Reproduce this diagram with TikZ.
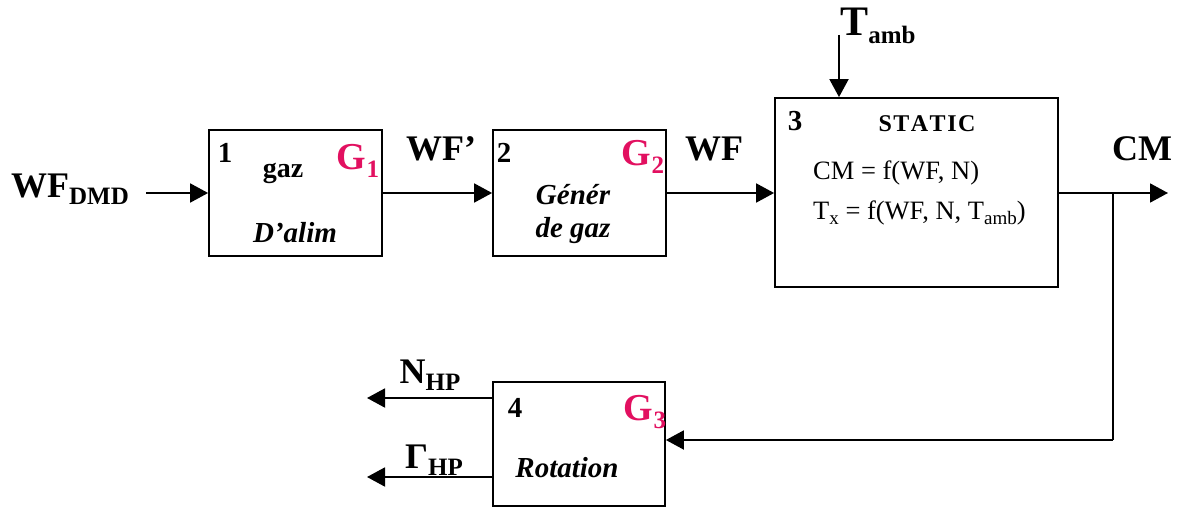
\documentclass[tikz,border=0pt]{standalone}
\usepackage{fontspec}
\setmainfont{Liberation Serif}
\usetikzlibrary{arrows.meta}
\definecolor{gmag}{RGB}{226,16,96}
\newcommand{\fs}[1]{\fontsize{#1}{#1}\selectfont}
\newcommand{\sub}[2]{\raisebox{-0.45ex}{\fs{#1}#2}}
\tikzset{
  blk/.style={draw, line width=1.8pt, rectangle, inner sep=0pt},
  arr/.style={line width=1.9pt, -{Triangle[length=18pt,width=19pt]}},
  ln/.style={line width=1.9pt},
  big/.style={font=\fs{36}\bfseries, inner sep=0pt},
  num/.style={font=\fs{29}\bfseries, inner sep=0pt},
  gl/.style={font=\fs{38}\bfseries, text=gmag, inner sep=0pt},
  lab/.style={font=\fs{28}\bfseries, inner sep=0pt},
  ilab/.style={font=\fs{29}\bfseries\itshape, inner sep=0pt, align=center},
  eq/.style={font=\fs{26.5}, inner sep=0pt, anchor=west}
}
\begin{document}
\begin{tikzpicture}[x=1pt,y=-1pt]
\useasboundingbox (0,0) rectangle (1178,508);
% blocks
\node[blk, minimum width=173pt, minimum height=126pt] (b1) at (295.5,193) {};
\node[blk, minimum width=173pt, minimum height=126pt] (b2) at (579.5,193) {};
\node[blk, minimum width=283pt, minimum height=189pt] (b3) at (916.5,192.5) {};
\node[blk, minimum width=172pt, minimum height=124pt] (b4) at (579,444) {};
% block texts
\node[num] (n1) at (225,153) {1};
\node[lab] (t1) at (283,173) {gaz};
\node[ilab] (t1b) at (295,233) {D’alim};
\node[gl] (g1) at (358,161) {G\sub{25}{1}};
\node[num] (n2) at (504,153) {2};
\node[ilab, align=center] (t2) at (573,214) {Génér\\[4pt]de gaz};
\node[gl] (g2) at (643,157) {G\sub{25}{2}};
\node[num] (n3) at (795,121) {3};
\node[lab, font=\fs{24}\bfseries] (t3) at (927,124) {S\kern1.5pt T\kern1.5pt A\kern1.5pt T\kern1.5pt I\kern1.5pt C};
\node[eq] (e1) at (813,173) {CM = f(WF, N)};
\node[eq] (e2) at (813,213) {T\sub{19}{x} = f(WF, N, T\sub{19}{amb})};
\node[num] (n4) at (515,408) {4};
\node[gl] (g3) at (645,412) {G\sub{25}{3}};
\node[ilab] (t4) at (567,468) {Rotation};
% signal labels
\node[big] (wfd) at (70,189) {WF\sub{25}{DMD}};
\node[big] (wfp) at (441,149) {WF’};
\node[big] (wf) at (714,149) {WF};
\node[big] (cm) at (1142,149) {CM};
\node[big, font=\fs{42}\bfseries] (tamb) at (878,26) {T\sub{25}{amb}};
\node[big] (nhp) at (430,375) {N\sub{25}{HP}};
\node[big] (ghp) at (434,460) {Γ\sub{25}{HP}};
% coordinates
\coordinate (in1) at (146,193);
\coordinate (tin) at (839,35);
\coordinate (cmout) at (1168,193);
\coordinate (br) at (1113,193);
\coordinate (brd) at (1113,440);
\coordinate (nout) at (367,398);
\coordinate (gout) at (367,477);
% connectors
\draw[arr] (in1) -- (b1.west |- in1);
\draw[arr] (b1.east |- in1) -- (b2.west |- in1);
\draw[arr] (b2.east |- in1) -- (b3.west |- in1);
\draw[arr] (tin) -- (tin |- b3.north);
\draw[arr] (b3.east |- in1) -- (cmout);
\draw[ln] (br) -- (brd);
\draw[arr] (brd) -- (b4.east |- brd);
\draw[arr] (b4.west |- nout) -- (nout);
\draw[arr] (b4.west |- gout) -- (gout);
\end{tikzpicture}
\end{document}
